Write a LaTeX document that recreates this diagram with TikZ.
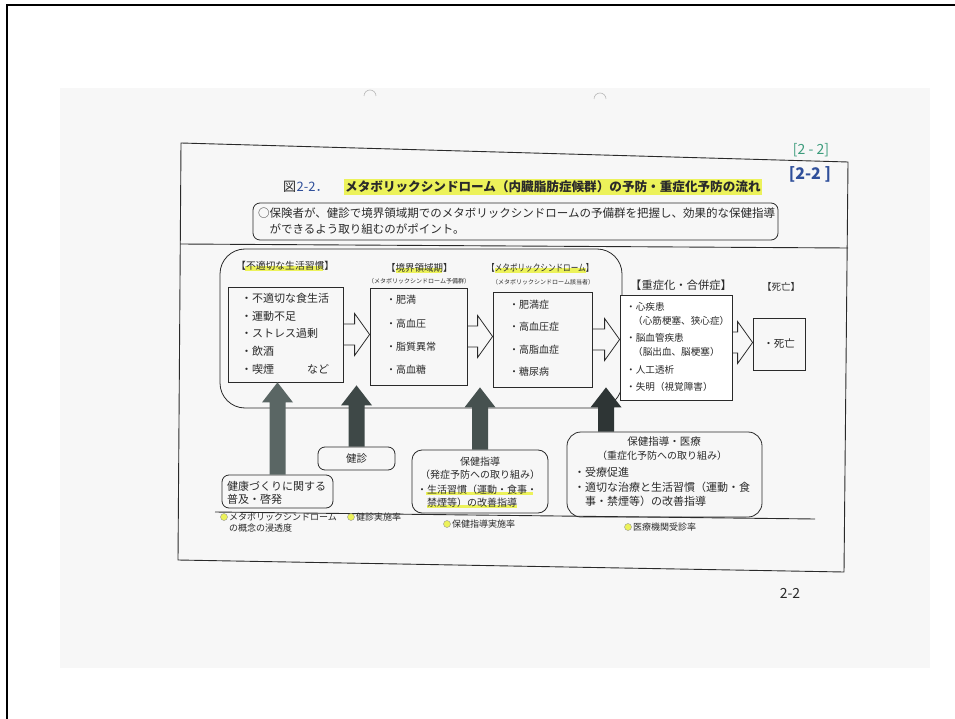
\documentclass[tikz,border=0pt]{standalone}
\usepackage{fontspec}
\setmainfont{Noto Sans CJK JP}
\newfontfamily\jpnarrow[FakeStretch=0.8]{Noto Sans CJK JP}
\usetikzlibrary{calc,backgrounds}
\definecolor{hl}{HTML}{ECF25A}
\definecolor{ink}{HTML}{2A2A2A}
\definecolor{bluepen}{HTML}{2F4F9A}
\definecolor{greenpen}{HTML}{3C9C7C}
\definecolor{paper}{HTML}{F7F7F7}
\definecolor{arA}{HTML}{5A6664}
\definecolor{arB}{HTML}{3E4847}
\definecolor{arC}{HTML}{46514F}
\definecolor{arD}{HTML}{2E3535}
\newcommand\fs[1]{\fontsize{#1}{#1}\selectfont}
\newcommand\harrow[3]{\draw[hollow] let \p1=(#1.east), \p2=(#2.west) in
  ({\x1},{\y1+#3+10.5pt}) -- ({\x2-15pt},{\y1+#3+10.5pt}) -- ({\x2-15pt},{\y1+#3+21pt}) --
  ({\x2},{\y1+#3}) -- ({\x2-15pt},{\y1+#3-21pt}) -- ({\x2-15pt},{\y1+#3-10.5pt}) -- ({\x1},{\y1+#3-10.5pt});}
\newcommand\uparr[3]{\fill[#3] let \p1=(#1), \p2=(#2) in
  ({\x1-8pt},{\y1}) -- ({\x1-8pt},{\y2-20pt}) -- ({\x1-15.5pt},{\y2-20pt}) -- ({\x1},{\y2}) --
  ({\x1+15.5pt},{\y2-20pt}) -- ({\x1+8pt},{\y2-20pt}) -- ({\x1+8pt},{\y1}) -- cycle;}
\begin{document}
\begin{tikzpicture}[x=1pt,y=-1pt,
  txt/.style={inner sep=0pt, text=ink, anchor=west},
  ctxt/.style={inner sep=0pt, text=ink},
  box/.style={draw=ink, line width=0.8pt, inner sep=0pt},
  rbox/.style={box, rounded corners=7pt},
  hollow/.style={draw=ink, line width=0.8pt},
  hlline/.style={draw=hl, line width=5pt},
  frame/.style={draw=ink, line width=0.9pt},
  dot/.style={circle, fill=hl, draw=ink!50, line width=0.4pt, inner sep=0pt, minimum size=7pt},
]
\useasboundingbox (0,0) rectangle (955,719);
\begin{scope}[on background layer]
  \fill[white] (0,0) rectangle (955,719);
  \fill[paper] (60,88) rectangle (930,668);
\end{scope}
% outer border
\draw[line width=1.6pt, black] (7,719) -- (7,5) -- (955,5);
% punch hole marks
\draw[gray!55, line width=0.6pt] (364,96) arc (180:360:6);
\draw[gray!55, line width=0.6pt] (594,99) arc (180:360:6);
% document frame
\draw[frame] (181,143) -- (848,162) -- (844,572) -- (178,560) -- cycle;
\draw[frame] (180,244) -- (848,248);
\draw[frame] (215,512) -- (815,519);
% handwritten labels
\node[ctxt, text=greenpen, font=\fs{14}] (g22) at (811,150) {[2 - 2]};
\node[ctxt, text=bluepen, font=\fs{16}\bfseries] (b22) at (810,174) {[2-2 ]};
\node[ctxt, font=\fs{14}] (pg) at (790,593) {2-2};
% title
\node[txt, font=\fs{13}] (t1) at (283,187) {図};
\node[txt, text=bluepen, font=\fs{13}] (t2) at (t1.east) {2-2．};
\node[txt, font=\fs{12.6}\bfseries, fill=hl, inner xsep=1pt, inner ysep=2pt] (t3) at (344,187)
  {メタボリックシンドローム（内臓脂肪症候群）の予防・重症化予防の流れ};
% text box
\node[rbox, minimum width=525pt, minimum height=37pt] (tb) at (515.5,221.5) {};
\node[txt, font=\fs{11.5}] (tb1) at (258,213) {○保険者が、健診で境界領域期でのメタボリックシンドロームの予備群を把握し、効果的な保健指導};
\node[txt, font=\fs{11.5}] (tb2) at (269.5,229) {ができるよう取り組むのがポイント。};
% big rounded region
\node[box, rounded corners=25pt, minimum width=402pt, minimum height=159pt] (big) at (421,328.5) {};
% stage boxes
\node[box, minimum width=115pt, minimum height=95pt] (b1) at (285.5,334.5) {};
\node[box, minimum width=97pt, minimum height=97pt] (b2) at (418.5,336.5) {};
\node[box, minimum width=99pt, minimum height=95pt] (b3) at (542.5,339.5) {};
\node[box, fill=white, minimum width=112pt, minimum height=105pt] (b4) at (676,347.5) {};
\node[box, minimum width=52pt, minimum height=52pt] (b5) at (779,344) {};
% labels
\node[txt, font=\fs{9.8}] (l1) at (236,266) {【不適切な生活習慣】};
\node[txt, font=\fs{9.5}] (l2) at (386,268) {【境界領域期】};
\node[txt, font=\fs{6}] (l2s) at (368,281) {（メタボリックシンドローム予備群）};
\node[txt, font=\jpnarrow\fs{9.5}] (l3) at (487,268) {【メタボリックシンドローム】};
\node[txt, font=\fs{6}] (l3s) at (492,282) {（メタボリックシンドローム該当者）};
\node[txt, font=\fs{11.3}] (l4) at (630,285) {【重症化・合併症】};
\node[txt, font=\fs{9.5}] (l5) at (762,287) {【死亡】};
% box 1 items
\begin{scope}[every node/.style={txt, font=\fs{11}}]
\node (i11) at (241,298) {・不適切な食生活};
\node (i12) at (241,316) {・運動不足};
\node (i13) at (241,333) {・ストレス過剰};
\node (i14) at (241,351) {・飲酒};
\node (i15) at (241,369) {・喫煙};
\node (i16) at (307,369) {など};
\end{scope}
\begin{scope}[every node/.style={txt, font=\fs{10}}]
\node (i21) at (386,300) {・肥満};
\node (i22) at (386,324) {・高血圧};
\node (i23) at (386,347) {・脂質異常};
\node (i24) at (386,370) {・高血糖};
\node (i31) at (509,305) {・肥満症};
\node (i32) at (509,327) {・高血圧症};
\node (i33) at (509,350) {・高脂血症};
\node (i34) at (509,372) {・糖尿病};
\end{scope}
\begin{scope}[every node/.style={txt, font=\fs{9.6}}]
\node (i41) at (626,307) {・心疾患};
\node (i42) at (633,321) {（心筋梗塞、狭心症）};
\node (i43) at (626,338) {・脳血管疾患};
\node (i44) at (633,352) {（脳出血、脳梗塞）};
\node (i45) at (626,370) {・人工透析};
\node (i46) at (626,387) {・失明（視覚障害）};
\end{scope}
\node[ctxt, font=\fs{10.5}] (i51) at (b5.center) {・死亡};
% hollow flow arrows
\harrow{b1}{b2}{0pt}
\harrow{b2}{b3}{0pt}
\harrow{b3}{b4}{0pt}
\harrow{b4}{b5}{5pt}
% bottom boxes
\node[rbox, minimum width=111pt, minimum height=33pt] (hb) at (277.5,491.5) {};
\node[rbox, minimum width=77pt, minimum height=23pt] (kb) at (356.5,458.5) {};
\node[rbox, rounded corners=10pt, minimum width=136pt, minimum height=63pt] (sb) at (480,481.5) {};
\node[rbox, rounded corners=14pt, minimum width=195pt, minimum height=85pt] (ib) at (664.5,474.5) {};
\node[txt, font=\fs{11}] (hb1) at (227,486) {健康づくりに関する};
\node[txt, font=\fs{11}] (hb2) at (227,499) {普及・啓発};
\node[ctxt, font=\fs{10.5}] (kb1) at (kb.center) {健診};
\node[ctxt, font=\fs{10}] (sb1) at (480,462) {保健指導};
\node[ctxt, font=\fs{10}] (sb2) at (480,475) {（発症予防への取り組み）};
\node[txt, font=\fs{10}] (sb3) at (417,490) {・生活習慣（運動・食事・};
\node[txt, font=\fs{10}] (sb4) at (427,503) {禁煙等）の改善指導};
\node[ctxt, font=\fs{10.5}] (ib1) at (664,442) {保健指導・医療};
\node[ctxt, font=\fs{10}] (ib2) at (662,456) {（重症化予防への取り組み）};
\node[txt, font=\fs{11}] (ib3) at (574,472) {・受療促進};
\node[txt, font=\fs{11}] (ib4) at (574,487) {・適切な治療と生活習慣（運動・食};
\node[txt, font=\fs{11}] (ib5) at (585,501) {事・禁煙等）の改善指導};
% up arrows
\coordinate (a4tip) at ($(b3.south east)!0.5!(b4.south west |- b3.south east)$);
\uparr{hb.north}{hb.north |- b1.south}{arA}
\uparr{kb.north}{kb.north |- b2.south}{arB}
\uparr{sb.north}{sb.north |- b3.south}{arC}
\uparr{ib.north -| a4tip}{a4tip}{arD}
% footnotes
\node[dot] (d1) at (224,517) {};
\node[txt, font=\fs{9}] (f1) at (229,517) {メタボリックシンドローム};
\node[txt, font=\fs{9}] (f1b) at (229,528) {の概念の浸透度};
\node[dot] (d2) at (351,517) {};
\node[txt, font=\fs{9}] (f2) at (356,517) {健診実施率};
\node[dot] (d3) at (447,524) {};
\node[txt, font=\fs{9}] (f3) at (452,524) {保健指導実施率};
\node[dot] (d4) at (628,527) {};
\node[txt, font=\fs{9}] (f4) at (633,527) {医療機関受診率};
% highlights
\begin{scope}[on background layer]
\draw[hlline] ($(l1.south west)+(9,-2)$) -- ($(l1.south east)+(-11,-2)$);
\draw[hlline] ($(l2.south west)+(10,-2)$) -- ($(l2.south west)+(56,-2)$);
\draw[hlline] ($(l3.south west)+(8,-2)$) -- ($(l3.south east)+(-8,-2)$);
\draw[hlline, line width=3pt] ($(sb3.south west)+(9,-1)$) -- ($(sb3.south east)+(-4,-1)$);
\draw[hlline, line width=3pt] ($(sb4.south west)+(0,-1)$) -- ($(sb4.south east)+(0,-1)$);
\end{scope}
\end{tikzpicture}
\end{document}
